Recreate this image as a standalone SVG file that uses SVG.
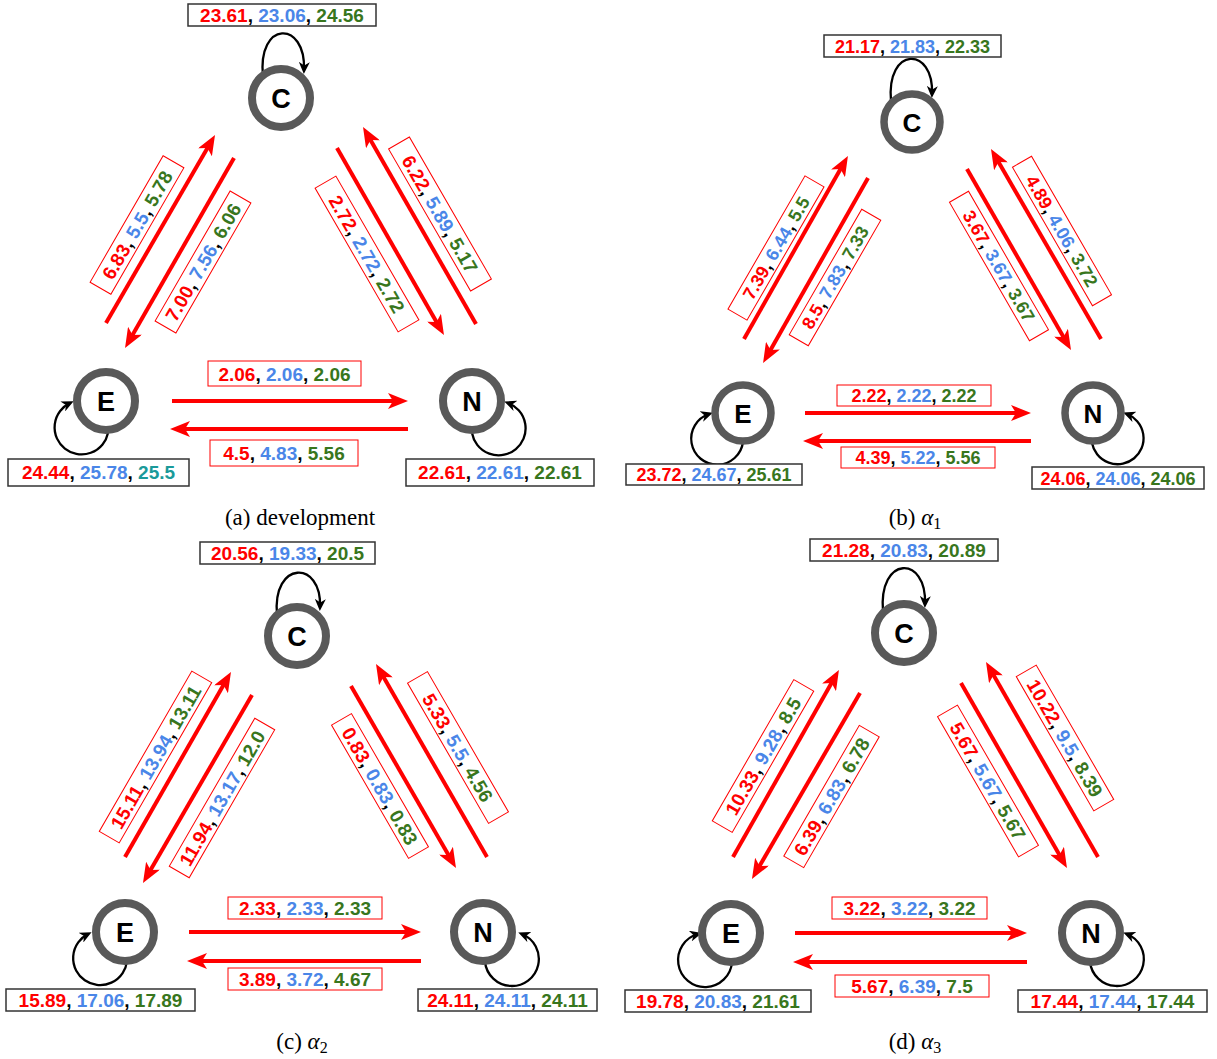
<svg xmlns="http://www.w3.org/2000/svg" width="1217" height="1059" viewBox="0 0 1217 1059">
<style>
.num{font-family:"Liberation Sans",Arial,sans-serif;font-weight:bold;font-size:19px;text-anchor:middle;fill:#000}
.sm{font-size:18px}
.r{fill:#ff0000}.b{fill:#4a86e8}.g{fill:#38761d}.t{fill:#1a9a9a}
.lb{fill:#fff;stroke:#333;stroke-width:1.5}
.eb{fill:#fff;stroke:#ff0000;stroke-width:1}
.node{fill:#fff;stroke:#595959;stroke-width:8}
.nl{font-family:"Liberation Sans",Arial,sans-serif;font-weight:bold;font-size:27px;text-anchor:middle;fill:#000}
.edge{stroke:#ff0000;stroke-width:4;fill:none;marker-end:url(#ar)}
.loop{stroke:#000;stroke-width:2.3;fill:none;marker-end:url(#ak)}
.cap{font-family:"Liberation Serif","Times New Roman",serif;font-size:23px;text-anchor:middle;fill:#000}
</style>
<defs>
<marker id="ar" markerUnits="userSpaceOnUse" viewBox="0 0 20 16" markerWidth="20" markerHeight="16" refX="9" refY="8" orient="auto"><path d="M0,0 L20,8 L0,16 L5,8 Z" fill="#ff0000"/></marker>
<marker id="ak" markerUnits="userSpaceOnUse" viewBox="0 0 12 11" markerWidth="12" markerHeight="11" refX="8" refY="5.5" orient="auto"><path d="M0,0 L12,5.5 L0,11 L3.5,5.5 Z" fill="#000"/></marker>
</defs>
<rect width="1217" height="1059" fill="#fff"/>

<!-- Panel (a) -->
<g id="panel-a">
<g id="a-connectors">
<line class="edge" x1="172" y1="401" x2="397" y2="401"/>
<line class="edge" x1="408" y1="429" x2="181" y2="429"/>
<line class="edge" x1="106" y1="323" x2="209.5" y2="144.5"/>
<line class="edge" x1="234" y1="158" x2="130.5" y2="338.5"/>
<line class="edge" x1="337" y1="148" x2="438.5" y2="325.5"/>
<line class="edge" x1="476" y1="324" x2="368.5" y2="136.5"/>
<path class="loop" d="M263,77 C257,20 306,20 304,70"/>
<path class="loop" d="M108,433 A27,27 0 1 1 70,403"/>
<path class="loop" d="M472,433 A27,27 0 1 0 508,403"/>
</g>
<g id="a-C"><circle class="node" cx="281" cy="98" r="29"/><text class="nl" x="281" y="108">C</text>
<rect class="lb" x="188" y="4" width="188" height="22"/><text class="num" x="282" y="22"><tspan class="r">23.61</tspan>, <tspan class="b">23.06</tspan>, <tspan class="g">24.56</tspan></text></g>
<g id="a-E"><circle class="node" cx="106" cy="401" r="29"/><text class="nl" x="106" y="411">E</text>
<rect class="lb" x="8" y="459" width="181" height="27"/><text class="num" x="98.5" y="479"><tspan class="r">24.44</tspan>, <tspan class="b">25.78</tspan>, <tspan class="t">25.5</tspan></text></g>
<g id="a-N"><circle class="node" cx="472" cy="401" r="29"/><text class="nl" x="472" y="411">N</text>
<rect class="lb" x="406" y="459" width="188" height="27"/><text class="num" x="500" y="479"><tspan class="r">22.61</tspan>, <tspan class="b">22.61</tspan>, <tspan class="g">22.61</tspan></text></g>
<g id="a-labels">
<rect class="eb" x="208" y="361" width="153" height="25"/><text class="num" x="284.5" y="380.5"><tspan class="r">2.06</tspan>, <tspan class="b">2.06</tspan>, <tspan class="g">2.06</tspan></text>
<rect class="eb" x="210" y="440" width="148" height="26"/><text class="num" x="284" y="460"><tspan class="r">4.5</tspan>, <tspan class="b">4.83</tspan>, <tspan class="g">5.56</tspan></text>
<g transform="translate(137,225) rotate(-60)"><rect class="eb" x="-73" y="-12" width="146" height="24"/><text class="num" x="0" y="7"><tspan class="r">6.83</tspan>, <tspan class="b">5.5</tspan>, <tspan class="g">5.78</tspan></text></g>
<g transform="translate(203,262) rotate(-60)"><rect class="eb" x="-75" y="-12" width="150" height="24"/><text class="num" x="0" y="7"><tspan class="r">7.00</tspan>, <tspan class="b">7.56</tspan>, <tspan class="g">6.06</tspan></text></g>
<g transform="translate(367,254) rotate(60)"><rect class="eb" x="-83" y="-12" width="166" height="24"/><text class="num" x="0" y="7"><tspan class="r">2.72</tspan>, <tspan class="b">2.72</tspan>, <tspan class="g">2.72</tspan></text></g>
<g transform="translate(440,214) rotate(60)"><rect class="eb" x="-82" y="-12" width="164" height="24"/><text class="num" x="0" y="7"><tspan class="r">6.22</tspan>, <tspan class="b">5.89</tspan>, <tspan class="g">5.17</tspan></text></g>
</g>
<text class="cap" x="300" y="525">(a) development</text>
</g>

<!-- Panel (b) -->
<g id="panel-b">
<g id="b-connectors">
<line class="edge" x1="805" y1="413" x2="1020" y2="413"/>
<line class="edge" x1="1031" y1="441" x2="814" y2="441"/>
<line class="edge" x1="744" y1="339" x2="842.5" y2="165.5"/>
<line class="edge" x1="868" y1="178" x2="768.5" y2="353.5"/>
<line class="edge" x1="967" y1="169" x2="1065.5" y2="340.5"/>
<line class="edge" x1="1101" y1="339" x2="996.5" y2="158.5"/>
<path class="loop" d="M891,101 C886,46 934,46 932,94"/>
<path class="loop" d="M743,442 A26,26 0 1 1 709,414"/>
<path class="loop" d="M1092,443 A26,26 0 1 0 1127,414"/>
</g>
<g id="b-C"><circle class="node" cx="912" cy="122" r="28" style="stroke-width:7.5"/><text class="nl" x="912" y="131.5" style="font-size:26px">C</text>
<rect class="lb" x="824" y="35" width="177" height="22"/><text class="num sm" x="912.5" y="52.5"><tspan class="r">21.17</tspan>, <tspan class="b">21.83</tspan>, <tspan class="g">22.33</tspan></text></g>
<g id="b-E"><circle class="node" cx="743" cy="413" r="28" style="stroke-width:7.5"/><text class="nl" x="743" y="422.5" style="font-size:26px">E</text>
<rect class="lb" x="626" y="464" width="176" height="21"/><text class="num sm" x="714" y="481"><tspan class="r">23.72</tspan>, <tspan class="b">24.67</tspan>, <tspan class="g">25.61</tspan></text></g>
<g id="b-N"><circle class="node" cx="1093" cy="413" r="28" style="stroke-width:7.5"/><text class="nl" x="1093" y="422.5" style="font-size:26px">N</text>
<rect class="lb" x="1032" y="467" width="172" height="22"/><text class="num sm" x="1118" y="484.5"><tspan class="r">24.06</tspan>, <tspan class="b">24.06</tspan>, <tspan class="g">24.06</tspan></text></g>
<g id="b-labels">
<rect class="eb" x="837" y="385" width="154" height="21"/><text class="num sm" x="914" y="402"><tspan class="r">2.22</tspan>, <tspan class="b">2.22</tspan>, <tspan class="g">2.22</tspan></text>
<rect class="eb" x="841" y="447" width="154" height="21"/><text class="num sm" x="918" y="464"><tspan class="r">4.39</tspan>, <tspan class="b">5.22</tspan>, <tspan class="g">5.56</tspan></text>
<g transform="translate(776,248) rotate(-60)"><rect class="eb" x="-77" y="-11" width="154" height="22"/><text class="num sm" x="0" y="6.5"><tspan class="r">7.39</tspan>, <tspan class="b">6.44</tspan>, <tspan class="g">5.5</tspan></text></g>
<g transform="translate(835,277.5) rotate(-60)"><rect class="eb" x="-72.5" y="-11" width="145" height="22"/><text class="num sm" x="0" y="6.5"><tspan class="r">8.5</tspan>, <tspan class="b">7.83</tspan>, <tspan class="g">7.33</tspan></text></g>
<g transform="translate(999,266) rotate(60)"><rect class="eb" x="-80" y="-11" width="160" height="22"/><text class="num sm" x="0" y="6.5"><tspan class="r">3.67</tspan>, <tspan class="b">3.67</tspan>, <tspan class="g">3.67</tspan></text></g>
<g transform="translate(1062,231) rotate(60)"><rect class="eb" x="-80" y="-11" width="160" height="22"/><text class="num sm" x="0" y="6.5"><tspan class="r">4.89</tspan>, <tspan class="b">4.06</tspan>, <tspan class="g">3.72</tspan></text></g>
</g>
<text class="cap" x="915" y="525">(b) <tspan font-style="italic">α</tspan><tspan font-size="16" dy="4">1</tspan></text>
</g>

<!-- Panel (c) -->
<g id="panel-c">
<g id="c-connectors">
<line class="edge" x1="189" y1="932" x2="410" y2="932"/>
<line class="edge" x1="421" y1="961" x2="198" y2="961"/>
<line class="edge" x1="125" y1="857" x2="225.5" y2="681.5"/>
<line class="edge" x1="252" y1="695" x2="148.5" y2="873.5"/>
<line class="edge" x1="351" y1="686" x2="450.5" y2="858.5"/>
<line class="edge" x1="487" y1="857" x2="381.5" y2="673.5"/>
<path class="loop" d="M277,615 C272,560 322,560 320,607"/>
<path class="loop" d="M127,961 A27,27 0 1 1 88,934"/>
<path class="loop" d="M485,962 A27,27 0 1 0 522,934"/>
</g>
<g id="c-C"><circle class="node" cx="297" cy="636" r="29"/><text class="nl" x="297" y="646">C</text>
<rect class="lb" x="200" y="542" width="175" height="22"/><text class="num" x="287.5" y="560"><tspan class="r">20.56</tspan>, <tspan class="b">19.33</tspan>, <tspan class="g">20.5</tspan></text></g>
<g id="c-E"><circle class="node" cx="125" cy="932" r="29"/><text class="nl" x="125" y="942">E</text>
<rect class="lb" x="6" y="989" width="189" height="22"/><text class="num" x="100.5" y="1007"><tspan class="r">15.89</tspan>, <tspan class="b">17.06</tspan>, <tspan class="g">17.89</tspan></text></g>
<g id="c-N"><circle class="node" cx="483" cy="932" r="29"/><text class="nl" x="483" y="942">N</text>
<rect class="lb" x="418" y="989" width="179" height="22"/><text class="num" x="507.5" y="1007"><tspan class="r">24.11</tspan>, <tspan class="b">24.11</tspan>, <tspan class="g">24.11</tspan></text></g>
<g id="c-labels">
<rect class="eb" x="228" y="897" width="154" height="22"/><text class="num" x="305" y="915"><tspan class="r">2.33</tspan>, <tspan class="b">2.33</tspan>, <tspan class="g">2.33</tspan></text>
<rect class="eb" x="228" y="968" width="154" height="22"/><text class="num" x="305" y="986"><tspan class="r">3.89</tspan>, <tspan class="b">3.72</tspan>, <tspan class="g">4.67</tspan></text>
<g transform="translate(155.5,757) rotate(-60)"><rect class="eb" x="-92.5" y="-11.5" width="185" height="23"/><text class="num" x="0" y="7"><tspan class="r">15.11</tspan>, <tspan class="b">13.94</tspan>, <tspan class="g">13.11</tspan></text></g>
<g transform="translate(222,798) rotate(-60)"><rect class="eb" x="-85.5" y="-11.5" width="171" height="23"/><text class="num" x="0" y="7"><tspan class="r">11.94</tspan>, <tspan class="b">13.17</tspan>, <tspan class="g">12.0</tspan></text></g>
<g transform="translate(380,786) rotate(60)"><rect class="eb" x="-77" y="-11.5" width="154" height="23"/><text class="num" x="0" y="7"><tspan class="r">0.83</tspan>, <tspan class="b">0.83</tspan>, <tspan class="g">0.83</tspan></text></g>
<g transform="translate(458,747.5) rotate(60)"><rect class="eb" x="-81" y="-11.5" width="162" height="23"/><text class="num" x="0" y="7"><tspan class="r">5.33</tspan>, <tspan class="b">5.5</tspan>, <tspan class="g">4.56</tspan></text></g>
</g>
<text class="cap" x="302" y="1049">(c) <tspan font-style="italic">α</tspan><tspan font-size="16" dy="4">2</tspan></text>
</g>

<!-- Panel (d) -->
<g id="panel-d">
<g id="d-connectors">
<line class="edge" x1="795" y1="933" x2="1016" y2="933"/>
<line class="edge" x1="1027" y1="962" x2="804" y2="962"/>
<line class="edge" x1="733" y1="857" x2="833.5" y2="679.5"/>
<line class="edge" x1="860" y1="693" x2="757.5" y2="869.5"/>
<line class="edge" x1="961" y1="683" x2="1061.5" y2="858.5"/>
<line class="edge" x1="1098" y1="857" x2="991.5" y2="671.5"/>
<path class="loop" d="M883,612 C878,555 927,555 925,604"/>
<path class="loop" d="M732,962 A27,27 0 1 1 698,934"/>
<path class="loop" d="M1090,962 A27,27 0 1 0 1127,934"/>
</g>
<g id="d-C"><circle class="node" cx="904" cy="633" r="29"/><text class="nl" x="904" y="643">C</text>
<rect class="lb" x="810" y="539" width="188" height="22"/><text class="num" x="904" y="557"><tspan class="r">21.28</tspan>, <tspan class="b">20.83</tspan>, <tspan class="g">20.89</tspan></text></g>
<g id="d-E"><circle class="node" cx="731" cy="933" r="29"/><text class="nl" x="731" y="943">E</text>
<rect class="lb" x="625" y="990" width="186" height="22"/><text class="num" x="718" y="1008"><tspan class="r">19.78</tspan>, <tspan class="b">20.83</tspan>, <tspan class="g">21.61</tspan></text></g>
<g id="d-N"><circle class="node" cx="1091" cy="933" r="29"/><text class="nl" x="1091" y="943">N</text>
<rect class="lb" x="1018" y="990" width="189" height="22"/><text class="num" x="1112.5" y="1008"><tspan class="r">17.44</tspan>, <tspan class="b">17.44</tspan>, <tspan class="g">17.44</tspan></text></g>
<g id="d-labels">
<rect class="eb" x="832" y="897" width="155" height="22"/><text class="num" x="909.5" y="915"><tspan class="r">3.22</tspan>, <tspan class="b">3.22</tspan>, <tspan class="g">3.22</tspan></text>
<rect class="eb" x="835" y="975" width="154" height="22"/><text class="num" x="912" y="993"><tspan class="r">5.67</tspan>, <tspan class="b">6.39</tspan>, <tspan class="g">7.5</tspan></text>
<g transform="translate(763,756) rotate(-60)"><rect class="eb" x="-81.5" y="-11.5" width="163" height="23"/><text class="num" x="0" y="7"><tspan class="r">10.33</tspan>, <tspan class="b">9.28</tspan>, <tspan class="g">8.5</tspan></text></g>
<g transform="translate(831.5,796.5) rotate(-60)"><rect class="eb" x="-75.5" y="-11.5" width="151" height="23"/><text class="num" x="0" y="7"><tspan class="r">6.39</tspan>, <tspan class="b">6.83</tspan>, <tspan class="g">6.78</tspan></text></g>
<g transform="translate(988,781) rotate(60)"><rect class="eb" x="-81" y="-11.5" width="162" height="23"/><text class="num" x="0" y="7"><tspan class="r">5.67</tspan>, <tspan class="b">5.67</tspan>, <tspan class="g">5.67</tspan></text></g>
<g transform="translate(1065,738) rotate(60)"><rect class="eb" x="-77.5" y="-11.5" width="155" height="23"/><text class="num" x="0" y="7"><tspan class="r">10.22</tspan>, <tspan class="b">9.5</tspan>, <tspan class="g">8.39</tspan></text></g>
</g>
<text class="cap" x="915" y="1049">(d) <tspan font-style="italic">α</tspan><tspan font-size="16" dy="4">3</tspan></text>
</g>
</svg>
